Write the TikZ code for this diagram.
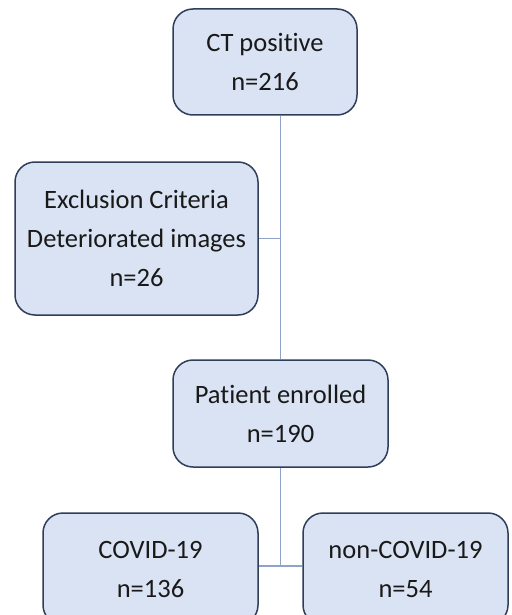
\documentclass[tikz,border=0pt]{standalone}
\usepackage{fontspec}
\setmainfont{Carlito}[Ligatures=NoCommon]
\definecolor{boxfill}{HTML}{DAE3F3}
\definecolor{boxline}{HTML}{2F3E5A}
\definecolor{conn}{HTML}{8FA3C8}
\begin{document}
\begin{tikzpicture}[x=1pt,y=-1pt,
  box/.style={draw=boxline, fill=boxfill, line width=1.5pt, rounded corners=20pt,
    inner sep=0pt, align=center, text=black!90,
    font=\fontsize{26.5}{39}\selectfont},
  link/.style={draw=conn, line width=1.8pt}]
\useasboundingbox (0,0) rectangle (511,615);
\clip (0,0) rectangle (511,615);
\fill[white] (0,0) rectangle (511,615);
\node[box, minimum width=184pt, minimum height=106pt] (ct) at (265,62) {CT positive\\n=216};
\node[box, minimum width=243pt, minimum height=153pt] (ex) at (136.5,238.5) {Exclusion Criteria\\Deteriorated images\\n=26};
\node[box, minimum width=215pt, minimum height=107pt] (pe) at (280.5,413.5) {Patient enrolled\\n=190};
\node[box, minimum width=215pt, minimum height=112pt] (cv) at (150.5,569) {COVID-19\\n=136};
\node[box, minimum width=205pt, minimum height=112pt] (nc) at (405.5,569) {non-COVID-19\\n=54};
\coordinate (j) at (280.5,566);
\draw[link] (pe.north) -- (pe.north |- ct.south);
\draw[link] (ex.east) -- (ex.east -| pe.north);
\draw[link] (pe.south) -- (j);
\draw[link] (cv.east |- j) -- (nc.west |- j);
\end{tikzpicture}
\end{document}
